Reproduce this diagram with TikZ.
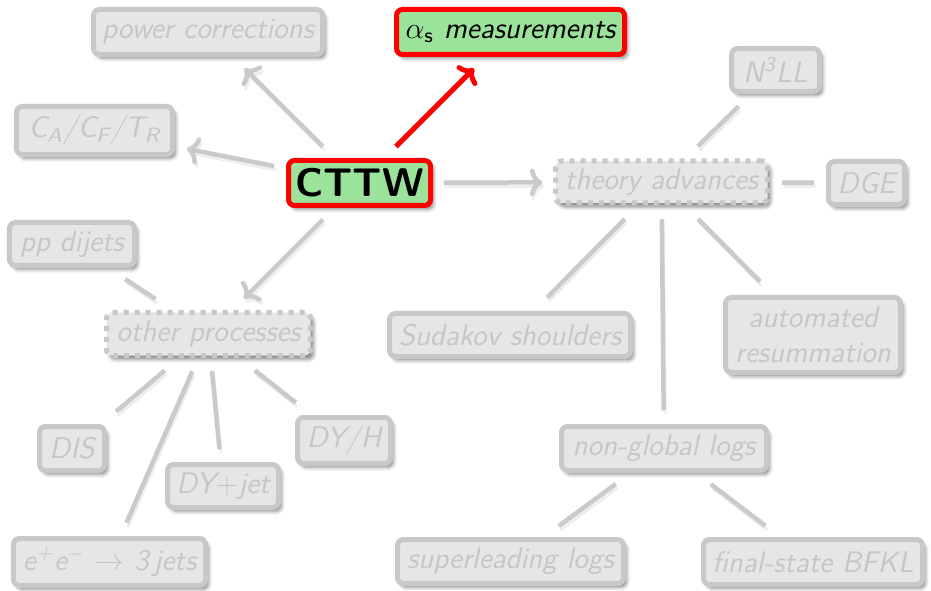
\documentclass[tikz,border=0pt]{standalone}
\usepackage{fontspec}
\usetikzlibrary{arrows.meta,shadows.blur}

\definecolor{boxfill}{RGB}{230,230,230}
\definecolor{boxline}{RGB}{200,200,200}
\definecolor{boxtext}{RGB}{198,198,198}
\definecolor{linkgray}{RGB}{202,202,202}
\definecolor{hotfill}{RGB}{155,226,155}
\definecolor{linkshade}{RGB}{238,238,238}

\tikzset{
  mapbox/.style={rectangle, rounded corners=2.4pt, line width=2pt,
    draw=boxline, fill=boxfill, text=boxtext, inner sep=0pt,
    font=\fontsize{11.9}{13.8}\selectfont\sffamily\itshape, align=center,
    blur shadow={shadow xshift=1.3pt, shadow yshift=-1.6pt,
      shadow blur radius=1.4pt, shadow opacity=45}},
  dashbox/.style={mapbox, dash pattern=on 2pt off 2.4pt},
  hotbox/.style={mapbox, draw=red, fill=hotfill, text=black},
  gap/.style={shorten <=#1, shorten >=#1},
  link/.style={draw=linkgray, line width=1.8pt,
    preaction={draw=linkshade, line width=1.2pt, transform canvas={xshift=0.6pt, yshift=-1.6pt}}},
  tip/.style={-{Computer Modern Rightarrow[length=5pt,width=11pt]}}
}

\begin{document}
\begin{tikzpicture}[x=0.4pt, y=-0.4pt]
  \useasboundingbox (0,0) rectangle (931,591);

  % central topic and its direct branches
  \node[hotbox, minimum width=56.8pt, minimum height=18pt, font=\fontsize{16}{19}\selectfont\sffamily\bfseries] (cttw) at (359.5,183) {CTTW};
  \node[hotbox, minimum width=91.2pt, minimum height=18pt] (alphas) at (510.5,32) {$\alpha_{\mathsf{s}}$ measurements};
  \node[mapbox, minimum width=91.6pt, minimum height=18pt] (power) at (208,32) {power corrections};
  \node[mapbox, minimum width=62.4pt, minimum height=19.2pt] (colour) at (94.5,130.5) {C\textsubscript{A}/C\textsubscript{F}/T\textsubscript{R}};
  \node[dashbox, minimum width=84.8pt, minimum height=16.8pt] (theory) at (661.5,182) {theory advances};
  \node[dashbox, minimum width=81.6pt, minimum height=17.2pt] (other) at (208.5,334) {other processes};

  % theory advances
  \node[mapbox, minimum width=35.2pt, minimum height=17.2pt] (nnnll) at (775.5,70) {N\textsuperscript{3}LL};
  \node[mapbox, minimum width=30.4pt, minimum height=17.2pt] (dge) at (866.5,183) {DGE};
  \node[mapbox, minimum width=96.4pt, minimum height=17.2pt] (sudakov) at (510,335) {Sudakov shoulders};
  \node[mapbox, minimum width=70pt, minimum height=30pt] (auto) at (813,335) {automated\\resummation};
  \node[mapbox, minimum width=82pt, minimum height=17.6pt] (ngl) at (664,448.5) {non-global logs};
  \node[mapbox, minimum width=90.4pt, minimum height=17.6pt] (slogs) at (510.5,561.5) {superleading logs};
  \node[mapbox, minimum width=87.6pt, minimum height=18pt] (bfkl) at (813,562) {final-state BFKL};

  % other processes
  \node[mapbox, minimum width=50pt, minimum height=17.2pt] (pp) at (72,244) {pp dijets};
  \node[mapbox, minimum width=26pt, minimum height=17.6pt] (dis) at (72,448.5) {DIS};
  \node[mapbox, minimum width=44.4pt, minimum height=17.2pt] (dyjet) at (223,486) {DY$+$jet};
  \node[mapbox, minimum width=37.2pt, minimum height=18.4pt] (dyh) at (344,440.5) {DY/H};
  \node[mapbox, minimum width=76.8pt, minimum height=18.8pt] (ee) at (109.5,562) {e\textsuperscript{+}e\textsuperscript{$-$}~$\rightarrow$~3\,jets};

  % arrows out of the centre
  \draw[link, tip, gap=6.5pt] (cttw) -- (power);
  \draw[link, tip, gap=4.8pt] (cttw) -- (colour);
  \draw[link, tip, gap=6.5pt] (cttw) -- (other);
  \draw[link, tip, gap=4.2pt] (cttw) -- (theory);
  \draw[draw=red, line width=2pt, tip, gap=6.5pt] (cttw) -- (alphas);

  % theory advances branches
  \draw[link, gap=7pt] (theory) -- (nnnll);
  \draw[link, gap=4.8pt] (theory) -- (dge);
  \draw[link, gap=7.6pt] (theory) -- (sudakov);
  \draw[link, gap=7.6pt] (theory) -- (auto);
  \draw[link, gap=5.5pt] (theory) -- (ngl);
  \draw[link, gap=7.4pt] (ngl) -- (slogs);
  \draw[link, gap=7.4pt] (ngl) -- (bfkl);

  % other processes branches
  \draw[link, gap=8pt] (other) -- (pp);
  \draw[link, gap=7.8pt] (other) -- (dis);
  \draw[link, gap=5.8pt] (other) -- (ee);
  \draw[link, gap=5.2pt] (other) -- (dyjet);
  \draw[link, gap=8pt] (other) -- (dyh);
\end{tikzpicture}
\end{document}
